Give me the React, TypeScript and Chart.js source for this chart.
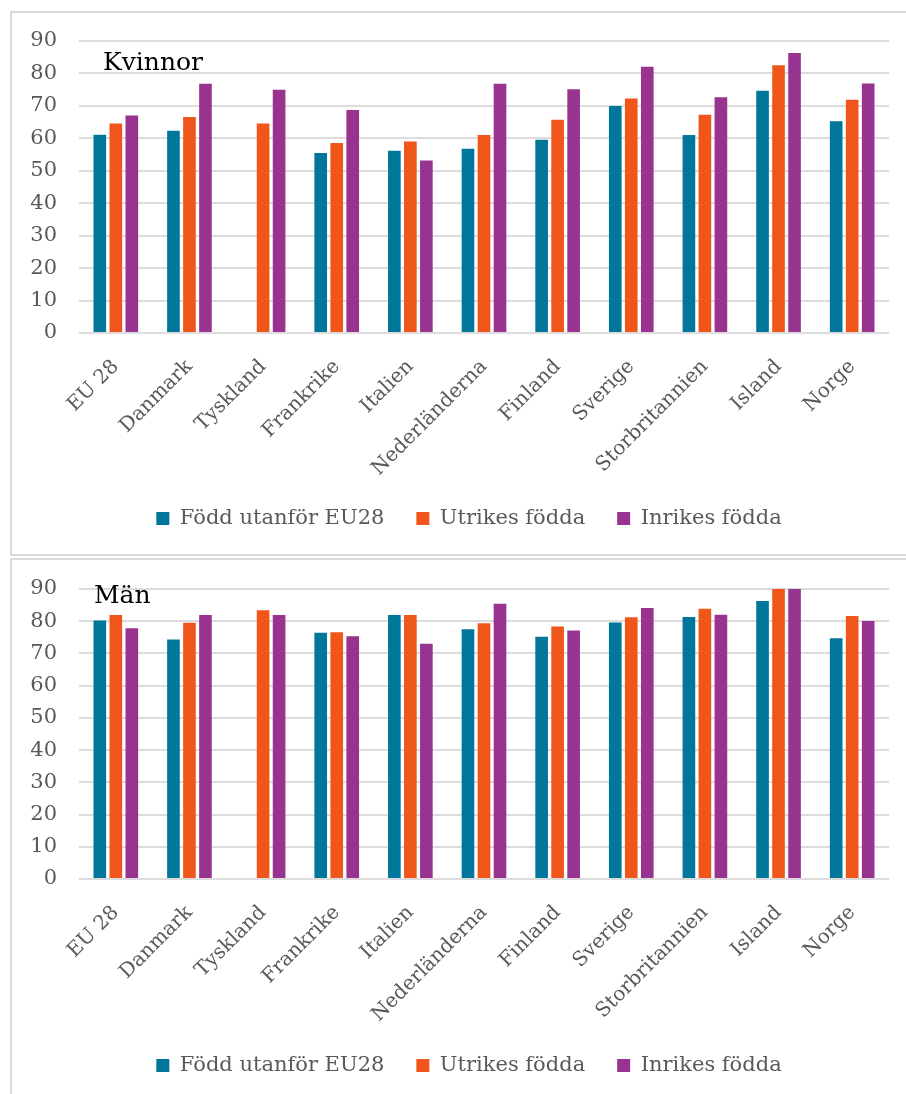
import React, { useEffect, useRef } from "react";
import { Chart, registerables } from "chart.js";

Chart.register(...registerables);

const categories = [
  "EU 28",
  "Danmark",
  "Tyskland",
  "Frankrike",
  "Italien",
  "Nederländerna",
  "Finland",
  "Sverige",
  "Storbritannien",
  "Island",
  "Norge",
];

const seriesNames = ["Född utanför EU28", "Utrikes födda", "Inrikes födda"];
const seriesColors = ["#00779A", "#F0561A", "#983390"];

const kvinnorUtanforEU = [61.1, 62.3, null, 55.5, 56.2, 56.8, 59.6, 70.0, 61.0, 74.7, 65.3];
const kvinnorUtrikes = [64.6, 66.6, 64.6, 58.6, 59.0, 61.0, 65.7, 72.3, 67.3, 82.5, 71.9];
const kvinnorInrikes = [67.0, 76.8, 75.0, 68.7, 53.2, 76.8, 75.1, 82.1, 72.7, 86.3, 76.9];

const manUtanforEU = [80.2, 74.3, null, 76.4, 81.9, 77.5, 75.2, 79.6, 81.3, 86.3, 74.7];
const manUtrikes = [81.9, 79.5, 83.4, 76.6, 81.9, 79.4, 78.4, 81.2, 83.9, 90.5, 81.6];
const manInrikes = [77.8, 81.9, 81.9, 75.3, 73.0, 85.4, 77.1, 84.1, 82.0, 90.5, 80.1];

const yMin = 0;
const yMax = 90;
const yStep = 10;

const FONT = "'DejaVu Serif', serif";

type PanelProps = {
  title: string;
  series: (number | null)[][];
  height: number;
  padTop: number;
  padBottom: number;
  xAxisHeight: number;
  titleX: number;
  titleY: number;
};

function BarPanel({ title, series, height, padTop, padBottom, xAxisHeight, titleX, titleY }: PanelProps) {
  const ref = useRef<HTMLCanvasElement | null>(null);

  useEffect(() => {
    if (!ref.current) return;
    const titlePlugin = {
      id: "innerTitle",
      afterDatasetsDraw(chart: any) {
        const ctx = chart.ctx;
        ctx.save();
        ctx.font = `25px ${FONT}`;
        ctx.fillStyle = "#000000";
        ctx.textAlign = "left";
        ctx.textBaseline = "alphabetic";
        ctx.fillText(title, titleX, titleY);
        ctx.restore();
      },
    };
    const legendShift = {
      id: "legendShift",
      afterLayout(chart: any) {
        const lg = chart.legend;
        if (lg) {
          lg.left += 15;
          lg.right += 15;
        }
      },
    };
    const chart = new Chart(ref.current, {
      type: "bar",
      data: {
        labels: categories,
        datasets: series.map((d, i) => ({
          label: seriesNames[i],
          data: d,
          backgroundColor: seriesColors[i],
          borderWidth: 0,
          categoryPercentage: 0.652,
          barPercentage: 0.79,
        })),
      },
      options: {
        animation: false,
        responsive: false,
        maintainAspectRatio: false,
        layout: { padding: { left: 7, right: 17, top: padTop, bottom: padBottom } },
        plugins: {
          tooltip: { enabled: false },
          title: { display: false },
          legend: {
            position: "bottom",
            labels: {
              boxWidth: 13,
              boxHeight: 13,
              padding: 32,
              color: "#595959",
              font: { family: FONT, size: 21 },
            },
          },
        },
        scales: {
          x: {
            grid: { display: false },
            border: { display: false },
            ticks: {
              autoSkip: false,
              minRotation: 45,
              maxRotation: 45,
              padding: 14,
              color: "#595959",
              font: { family: FONT, size: 20 },
            },
            afterFit: (scale: any) => {
              scale.height = xAxisHeight;
            },
          },
          y: {
            min: yMin,
            max: yMax,
            border: { display: false },
            grid: {
              color: "#dcdcdc",
              lineWidth: 2,
              drawTicks: true,
              tickLength: 22,
              tickColor: "rgba(0,0,0,0)",
            },
            ticks: {
              stepSize: yStep,
              padding: 0,
              color: "#595959",
              font: { family: FONT, size: 21 },
            },
            afterFit: (scale: any) => {
              scale.width = 60;
            },
          },
        },
      },
      plugins: [titlePlugin, legendShift],
    });
    return () => chart.destroy();
  }, []);

  return <canvas ref={ref} width={894} height={height} style={{ display: "block", width: 894, height }} />;
}

export default function App() {
  return (
    <div>
      <div
        style={{
          position: "absolute",
          left: 10,
          top: 11,
          width: 896,
          height: 545,
          boxSizing: "border-box",
          borderLeft: "2px solid #d9d9d9",
          borderTop: "2px solid #d9d9d9",
          borderBottom: "2px solid #d9d9d9",
          background: "#fff",
          overflow: "hidden",
        }}
      >
        <BarPanel
          title="Kvinnor"
          series={[kvinnorUtanforEU, kvinnorUtrikes, kvinnorInrikes]}
          height={541}
          padTop={28}
          padBottom={15}
          xAxisHeight={143}
          titleX={91}
          titleY={57}
        />
      </div>
      <div
        style={{
          position: "absolute",
          left: 10,
          top: 558,
          width: 896,
          height: 536,
          boxSizing: "border-box",
          borderLeft: "2px solid #d9d9d9",
          borderTop: "2px solid #d9d9d9",
          background: "#fff",
          overflow: "hidden",
        }}
      >
        <BarPanel
          title="Män"
          series={[manUtanforEU, manUtrikes, manInrikes]}
          height={534}
          padTop={29}
          padBottom={8}
          xAxisHeight={144}
          titleX={82}
          titleY={43}
        />
      </div>
    </div>
  );
}
